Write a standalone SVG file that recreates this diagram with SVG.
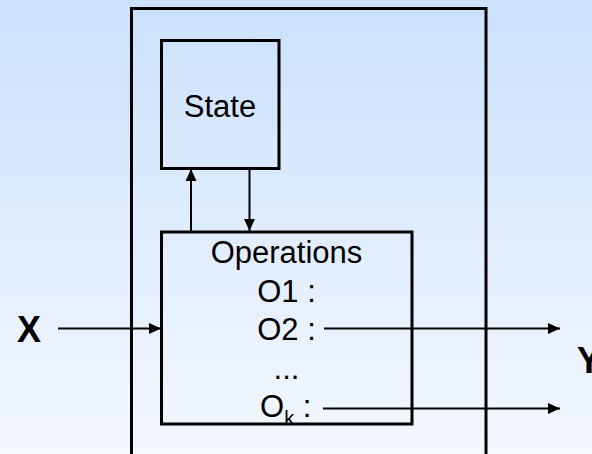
<svg xmlns="http://www.w3.org/2000/svg" width="592" height="454" viewBox="0 0 592 454">
  <defs>
    <linearGradient id="bg" x1="0" y1="0" x2="0" y2="1">
      <stop offset="0" stop-color="#cbe1fc"/>
      <stop offset="1" stop-color="#f4f8ff"/>
    </linearGradient>
    <marker id="arr" markerUnits="userSpaceOnUse" markerWidth="12" markerHeight="12" viewBox="0 0 11 10" refX="11" refY="5" orient="auto">
      <polygon points="0,0 11,5 0,10" fill="#000"/>
    </marker>
  </defs>
  <style>
    .box { fill: none; stroke: #000; stroke-width: 3; }
    .conn { fill: none; stroke: #000; stroke-width: 2; marker-end: url(#arr); }
    .t { font-family: "Liberation Sans", Arial, sans-serif; font-size: 31px; fill: #000; }
    .big { font-family: "Liberation Sans", Arial, sans-serif; font-size: 36px; font-weight: bold; fill: #000; }
  </style>
  <rect x="0" y="0" width="592" height="454" fill="url(#bg)"/>

  <g id="object">
    <rect class="box" x="131.5" y="8.5" width="354.5" height="470"/>
  </g>

  <g id="state">
    <rect class="box" x="161.5" y="40.5" width="117.5" height="128"/>
    <text class="t" x="220" y="117" text-anchor="middle">State</text>
  </g>

  <g id="operations">
    <rect class="box" x="161.5" y="232" width="250.5" height="192"/>
    <text class="t" x="286.5" y="263" text-anchor="middle">Operations</text>
    <text class="t" x="286.5" y="302" text-anchor="middle">O1 :</text>
    <text class="t" x="286.5" y="340" text-anchor="middle">O2 :</text>
    <text class="t" x="286.5" y="379" text-anchor="middle">...</text>
    <text class="t" x="260" y="417">O<tspan font-size="20" dy="8">k</tspan><tspan dy="-8"> :</tspan></text>
  </g>

  <g id="label-x">
    <text class="big" x="17" y="342">X</text>
  </g>
  <g id="label-y">
    <text class="big" x="577" y="373">Y</text>
  </g>

  <g id="connectors">
    <line class="conn" x1="191" y1="231" x2="191" y2="169"/>
    <line class="conn" x1="249.5" y1="169" x2="249.5" y2="231"/>
    <line class="conn" x1="58" y1="328.5" x2="161" y2="328.5"/>
    <line class="conn" x1="324" y1="328.5" x2="560" y2="328.5"/>
    <line class="conn" x1="323" y1="408.5" x2="560" y2="408.5"/>
  </g>
</svg>
